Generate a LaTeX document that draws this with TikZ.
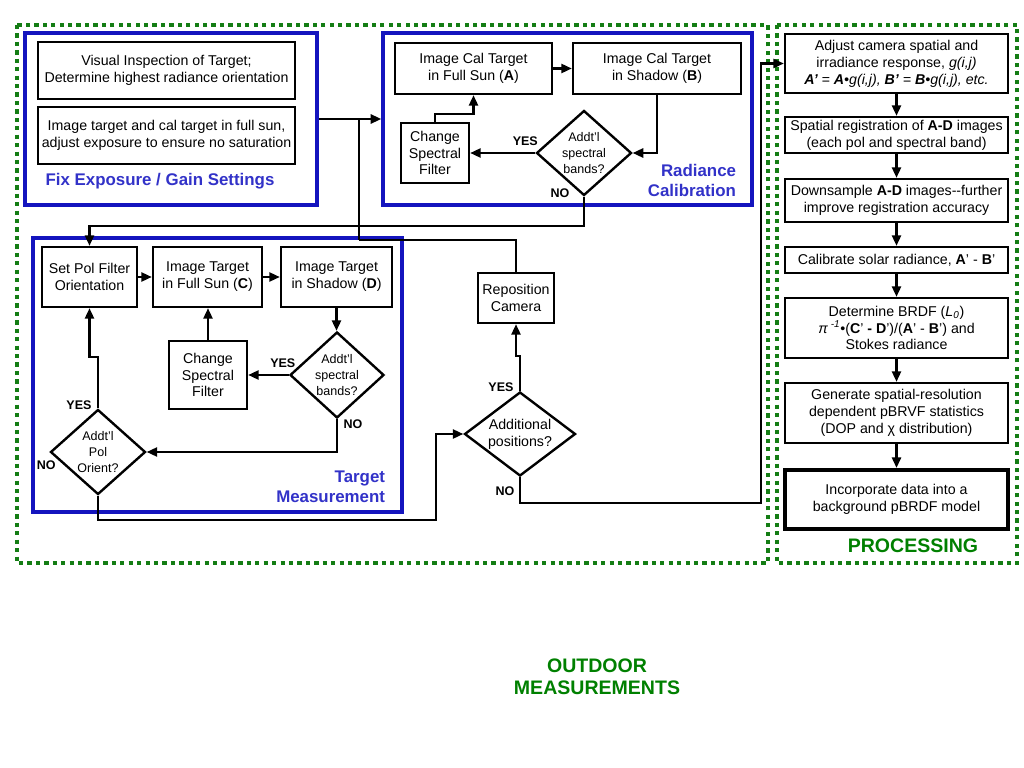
\documentclass[tikz,border=0pt]{standalone}
\usepackage{fontspec}
\setmainfont{Liberation Sans}
\usepackage{tikz}
\usetikzlibrary{shapes.geometric}
\usetikzlibrary{arrows.meta}
\usetikzlibrary{calc}
\usepackage{xcolor}
\definecolor{grpBlue}{RGB}{20,20,190}
\definecolor{lblBlue}{RGB}{50,50,200}
\definecolor{dotGreen}{RGB}{20,125,20}
\definecolor{txtGreen}{RGB}{0,128,0}
\newcommand{\pxu}{0.025cm}
\newcommand{\bodyfont}{\fontsize{10.1}{12}\selectfont}
\newcommand{\decfont}{\fontsize{8.9}{11.3}\selectfont}
\newcommand{\yesfont}{\bfseries\fontsize{8.9}{10}\selectfont}
\newcommand{\grpfont}{\bfseries\fontsize{12}{14.2}\selectfont}
\newcommand{\bigfont}{\bfseries\fontsize{13.9}{15.6}\selectfont}
\tikzset{
  wh/.style 2 args={minimum width=#1*\pxu, minimum height=#2*\pxu},
  procbox/.style={draw, line width=1.7pt, align=center, inner sep=0pt, font=\bodyfont},
  decide/.style={diamond, draw, line width=1.7pt, align=center, inner sep=0pt,
    aspect=1.1, font=\decfont},
  grpbox/.style={draw=grpBlue, line width=2.5pt, inner sep=0pt},
  grplabel/.style={text=lblBlue, font=\grpfont, align=right},
  dotbox/.style={draw=dotGreen, line width=3pt, dash pattern=on 3pt off 3pt},
  yesno/.style={font=\yesfont, inner sep=0pt},
  flow/.style={line width=1.6pt},
  arr/.style={flow, -{Triangle[length=7.5pt,width=6.5pt]}},
}

\begin{document}
\begin{tikzpicture}[x=\pxu, y=-\pxu]
\useasboundingbox (0,0) rectangle (1024,768);

%%%%%%%%%%%%%%%%%%%%%%%%%%%%%%%%%%%%%%%%%%%%%%%%%%%%%%%%%%%%%% Setup
\draw[dotbox] (17,25) rectangle (768,563);
\draw[dotbox] (777,25) rectangle (1017,563);
\node[text=txtGreen, font=\bigfont, align=center] (outdoor) at (597,677) {OUTDOOR\\MEASUREMENTS};

%%%%%%%%%%%%%%%%%%%%%%%%%%%%%%%%%%%%%%%%%%%%%%%%%%%%%%%%%%%%%% Exposure
\node[grpbox, wh={292}{172}] (fixbox) at (171,119) {};
\node[procbox, wh={257}{57}] (vis) at (166.5,70.5) {Visual Inspection of Target;\\Determine highest radiance orientation};
\node[procbox, wh={257}{57}] (expo) at (166.5,135.5) {Image target and cal target in full sun,\\adjust exposure to ensure no saturation};
\node[grplabel] (fixlbl) at (160,181) {Fix Exposure / Gain Settings};

%%%%%%%%%%%%%%%%%%%%%%%%%%%%%%%%%%%%%%%%%%%%%%%%%%%%%%%%%%%%%% Radiance
\node[grpbox, wh={369}{172}] (radbox) at (567.5,119) {};
\node[procbox, wh={157}{51}] (calA) at (473.5,68.5) {Image Cal Target\\in Full Sun (\textbf{A})};
\node[procbox, wh={168}{51}] (calB) at (657,68.5) {Image Cal Target\\in Shadow (\textbf{B})};
\node[procbox, wh={68}{60}] (chgA) at (435,153) {Change\\Spectral\\Filter};
\node[decide, wh={95}{85}] (dA) at (584,153) {Addt'l\\spectral\\bands?};
\node[grplabel, anchor=east] (radlbl) at (741,180) {Radiance\\Calibration};
\node[yesno] (yesA) at ($(dA.west)+(-10,-12)$) {YES};
\node[yesno] (noA) at ($(dA.south)+(-24,-4)$) {NO};

\draw[arr] (fixbox.east) -- (radbox.west);
\draw[arr] (calA) -- (calB);
\draw[arr] (calB.south) |- (dA.east);
\draw[arr] (dA.west) -- (chgA.east);
\draw[arr] (chgA.north) -- ++(0,-8) -| (calA.south);

%%%%%%%%%%%%%%%%%%%%%%%%%%%%%%%%%%%%%%%%%%%%%%%%%%%%%%%%%%%%%% Target
\node[grpbox, wh={369}{274}] (tmbox) at (217.5,375) {};
\node[procbox, wh={95}{60}] (pol) at (89.5,277) {Set Pol Filter\\Orientation};
\node[procbox, wh={109}{60}] (calC) at (207.5,277) {Image Target\\in Full Sun (\textbf{C})};
\node[procbox, wh={111}{60}] (calD) at (336.5,277) {Image Target\\in Shadow (\textbf{D})};
\node[procbox, wh={78}{68}] (chgB) at (208,375) {Change\\Spectral\\Filter};
\node[decide, wh={94}{86}] (dB) at (337,375) {Addt'l\\spectral\\bands?};
\node[decide, wh={95}{85}] (dP) at (98,452) {Addt'l\\Pol\\Orient?};
\node[grplabel, anchor=east] (tmlbl) at (390,487) {Target\\Measurement};
\node[yesno] (yesB) at ($(dB.west)+(-6,-12)$) {YES};
\node[yesno] (noB) at ($(dB.south)+(16,5)$) {NO};
\node[yesno] (yesP) at ($(dP.north)+(-19,-3)$) {YES};
\node[yesno] (noP) at ($(dP.west)+(-3,13)$) {NO};

\draw[arr] (pol) -- (calC);
\draw[arr] (calC) -- (calD);
\draw[arr] (calD.south) -- (calD.south |- dB.north);
\draw[arr] (dB.west) -- (chgB.east);
\draw[arr] (chgB.north) -- (chgB.north |- calC.south);
\draw[arr] (dB.south) |- (dP.east);
\draw[arr] (dP.north) -- ++(0,-51) -| (pol.south);
\draw[arr] (dA.south) -- ++(0,29) -| (pol.north);

%%%%%%%%%%%%%%%%%%%%%%%%%%%%%%%%%%%%%%%%%%%%%%%%%%%%%%%%%%%%%% Positions
\node[procbox, wh={76}{50}] (repo) at (516,298) {Reposition\\Camera};
\node[decide, wh={111}{84}, aspect=1.3, font=\bodyfont] (dAdd) at (520,434) {Additional\\positions?};
\node[yesno] (yesAdd) at ($(dAdd.north)+(-19,-4)$) {YES};
\node[yesno] (noAdd) at ($(dAdd.south)+(-15,14)$) {NO};

\coordinate (tap) at (359,119);
\coordinate (back) at (359,240);
\coordinate (low) at (436,520);
\draw[flow] (tap) -- (back);
\draw[flow] (repo.north) |- (back);
\draw[arr] (dAdd.north) -- ++(0,-35) -| (repo.south);
\draw[arr] (dP.south) |- (low) |- (dAdd.west);

%%%%%%%%%%%%%%%%%%%%%%%%%%%%%%%%%%%%%%%%%%%%%%%%%%%%%%%%%%%%%% Processing
\node[procbox, wh={223}{59}] (p1) at (896.5,63.5) {Adjust camera spatial and\\irradiance response, \textit{g(i,j)}\\\textit{\textbf{A'} = \textbf{A}•g(i,j), \textbf{B'} = \textbf{B}•g(i,j), etc.}};
\node[procbox, wh={223}{36}] (p2) at (896.5,135) {Spatial registration of \textbf{A-D} images\\(each pol and spectral band)};
\node[procbox, wh={223}{43}] (p3) at (896.5,200.5) {Downsample \textbf{A-D} images-{}-further\\improve registration accuracy};
\node[procbox, wh={223}{26}] (p4) at (896.5,260) {Calibrate solar radiance, \textbf{A}' - \textbf{B}'};
\node[procbox, wh={223}{60}] (p5) at (896.5,328) {Determine BRDF (\textit{L\textsubscript{0}})\\\textit{π}\textsuperscript{\textit{ -1}}•(\textbf{C}' \textbf{-} \textbf{D}')/(\textbf{A}' - \textbf{B}') and\\Stokes radiance};
\node[procbox, wh={223}{60}] (p6) at (896.5,413) {Generate spatial-resolution\\dependent pBRVF statistics\\(DOP and χ distribution)};
\node[procbox, wh={223}{59}, line width=3pt] (p7) at (896.5,499.5) {Incorporate data into a\\background pBRDF model};
\node[text=txtGreen, font=\bigfont] (proclbl) at (913,546) {PROCESSING};

\draw[arr] (p1) -- (p2);
\draw[arr] (p2) -- (p3);
\draw[arr] (p3) -- (p4);
\draw[arr] (p4) -- (p5);
\draw[arr] (p5) -- (p6);
\draw[arr] (p6) -- (p7);

\coordinate (rise) at (761,63.5);
\draw[arr] (dAdd.south) -- ++(0,26) -| (rise) -- (p1.west);

\end{tikzpicture}
\end{document}
